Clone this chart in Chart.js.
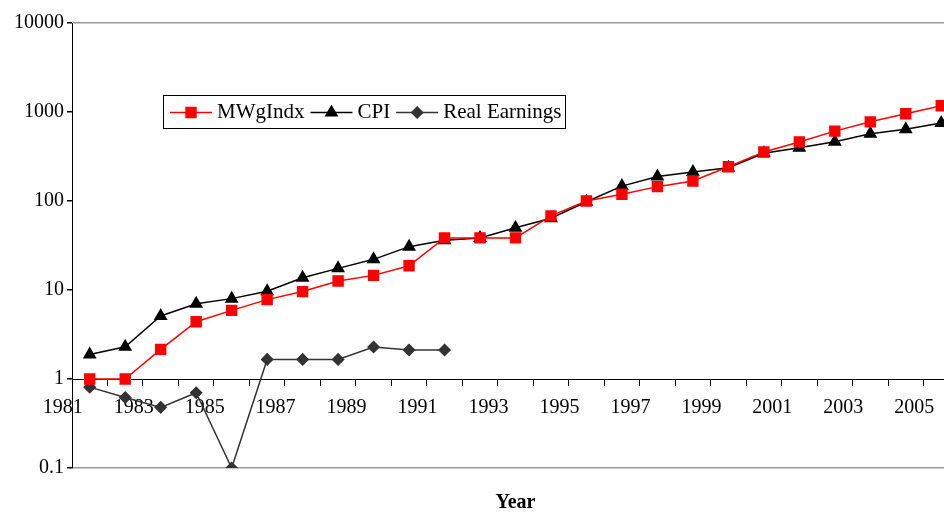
<!DOCTYPE html>
<html>
<head>
<meta charset="utf-8">
<script src="https://cdn.jsdelivr.net/npm/chart.js@4/dist/chart.umd.min.js"></script>
<style>
  html, body { margin: 0; padding: 0; background: #fff; overflow: hidden; }
  #wrap { width: 944px; height: 512px; overflow: hidden; position: relative; }
  canvas { display: block; }
</style>
</head>
<body>
<div id="wrap"><canvas id="chart" width="985" height="512"></canvas></div>
<script>
// Chart data
const years = ['1981', '1982', '1983', '1984', '1985', '1986', '1987', '1988', '1989', '1990',
    '1991', '1992', '1993', '1994', '1995', '1996', '1997', '1998', '1999', '2000',
    '2001', '2002', '2003', '2004', '2005'];
const mwgIndx = [1.0, 1.0, 2.15, 4.4, 5.9, 7.8, 9.6, 12.6, 14.6, 18.7,
    38.5, 38.5, 38.5, 68, 100, 119, 145, 168, 243, 355,
    460, 610, 775, 955, 1175];
const cpi = [1.88, 2.3, 5.1, 7.0, 8.0, 9.7, 13.7, 17.5, 22.1, 30.7,
    36.2, 38.5, 50, 64, 98, 147, 188, 212, 237, 344,
    397, 464, 570, 639, 752];
const realEarnings = [0.81, 0.62, 0.48, 0.70, 0.10, 1.66, 1.66, 1.66, 2.29, 2.12, 2.12];
const yTicks = [0.1, 1, 10, 100, 1000, 10000];
const xAxisTitle = 'Year';

const FONT = 'Liberation Serif, "Times New Roman", serif';

// legend box + axis title, drawn on the canvas
const extrasPlugin = {
    id: 'extras',
    afterDraw(chart) {
        const ctx = chart.ctx;
        const area = chart.chartArea;
        ctx.save();

        // legend
        const lx = 163, ly = 95, lw = 402, lh = 33;
        ctx.fillStyle = '#fff';
        ctx.fillRect(lx, ly, lw, lh);
        ctx.strokeStyle = '#000';
        ctx.lineWidth = 1;
        ctx.strokeRect(lx + 0.5, ly + 0.5, lw, lh);
        ctx.font = '21px ' + FONT;
        ctx.textBaseline = 'middle';
        ctx.textAlign = 'left';
        let x = lx + 7;
        const y = ly + lh / 2 + 1;
        chart.data.datasets.forEach(ds => {
            ctx.strokeStyle = ds.borderColor;
            ctx.lineWidth = 1.5;
            ctx.beginPath();
            ctx.moveTo(x, y);
            ctx.lineTo(x + 42, y);
            ctx.stroke();
            ctx.fillStyle = ds.pointBackgroundColor;
            ctx.strokeStyle = ds.pointBorderColor;
            Chart.helpers.drawPoint(ctx, {
                pointStyle: ds.pointStyle,
                radius: ds.pointRadius,
                rotation: 0,
                borderWidth: 1
            }, x + 21, y);
            ctx.fillStyle = '#000';
            ctx.fillText(ds.label, x + 47, y);
            x += 47 + ctx.measureText(ds.label).width + 6;
        });

        // x axis title
        ctx.font = 'bold 20px ' + FONT;
        ctx.textAlign = 'center';
        ctx.fillStyle = '#000';
        ctx.fillText(xAxisTitle, (area.left + area.right) / 2, 503);
        ctx.restore();
    }
};

new Chart(document.getElementById('chart'), {
    type: 'line',
    data: {
        labels: years,
        datasets: [{
            label: 'MWgIndx',
            data: mwgIndx,
            borderColor: '#ff0000',
            backgroundColor: '#ff0000',
            pointBackgroundColor: '#ff0000',
            pointBorderColor: '#ff0000',
            pointStyle: 'rect',
            pointRadius: 7,
            borderWidth: 1.5,
            tension: 0
        }, {
            label: 'CPI',
            data: cpi,
            borderColor: '#000000',
            backgroundColor: '#000000',
            pointBackgroundColor: '#000000',
            pointBorderColor: '#000000',
            pointStyle: 'triangle',
            pointRadius: 6.5,
            borderWidth: 1.5,
            tension: 0
        }, {
            label: 'Real Earnings',
            data: realEarnings,
            borderColor: '#333333',
            backgroundColor: '#333333',
            pointBackgroundColor: '#333333',
            pointBorderColor: '#333333',
            pointStyle: 'rectRot',
            pointRadius: 5.5,
            borderWidth: 1.5,
            tension: 0
        }]
    },
    options: {
        responsive: false,
        animation: false,
        layout: { padding: { left: 12, right: 26, top: 23, bottom: 44 } },
        plugins: {
            legend: { display: false },
            title: { display: false },
            tooltip: { enabled: false }
        },
        scales: {
            x: {
                type: 'category',
                position: { y: 1 },
                offset: true,
                grid: {
                    offset: true,
                    drawOnChartArea: false,
                    drawTicks: true,
                    tickLength: 6,
                    tickColor: '#000'
                },
                border: { color: '#000', width: 1 },
                ticks: {
                    autoSkip: false,
                    maxRotation: 0,
                    minRotation: 0,
                    padding: 11,
                    labelOffset: -27,
                    color: '#000',
                    font: { family: FONT, size: 20 },
                    callback: function(val, i) {
                        return i % 2 === 0 ? this.getLabelForValue(val) : '';
                    }
                }
            },
            y: {
                type: 'logarithmic',
                min: 0.1,
                max: 10000,
                afterBuildTicks: scale => {
                    scale.ticks = yTicks.map(v => ({ value: v }));
                },
                afterFit: scale => { scale.width = 60; },
                grid: {
                    color: c => (c.tick && (c.tick.value === 10000 || c.tick.value === 0.1)) ? '#9a9a9a' : 'rgba(0,0,0,0)',
                    lineWidth: 1.5,
                    tickColor: '#000',
                    tickLength: 5
                },
                border: { color: '#000', width: 1 },
                ticks: {
                    padding: 3,
                    color: '#000',
                    font: { family: FONT, size: 20 },
                    callback: v => String(v)
                }
            }
        }
    },
    plugins: [extrasPlugin]
});
</script>
</body>
</html>
